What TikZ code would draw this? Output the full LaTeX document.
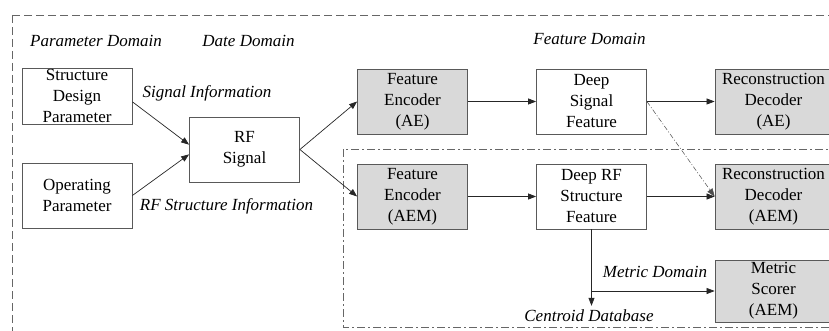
\documentclass[tikz,border=0pt]{standalone}
\usepackage{fontspec}
\setmainfont{Liberation Serif}
\usetikzlibrary{arrows.meta}

\begin{document}
\begin{tikzpicture}[x=1pt, y=-1pt,
        font=\fontsize{17}{21}\selectfont,
        >={Triangle[length=8pt,width=6pt]},
        box/.style={draw=black!65, line width=0.8pt, align=center, inner sep=0pt, minimum width=110pt, minimum height=65pt},
        gray box/.style={box, fill=black!15},
        domain label/.style={font=\fontsize{17}{21}\selectfont\itshape, inner sep=0pt},
        link/.style={->, line width=0.7pt, color=black!85},
        side link/.style={link, line width=0.5pt, color=black!70, dash pattern=on 5pt off 2pt on 1pt off 2pt},
        frame/.style={draw=black!60, line width=0.8pt, dash pattern=on 8pt off 4pt},
        inner frame/.style={draw=black!60, line width=0.8pt, dash pattern=on 8pt off 3pt on 2pt off 3pt}
        ]
        \useasboundingbox (0,0) rectangle (829,331);
        \clip (0,0) rectangle (829,331);
        \draw [frame] (12,15) rectangle (845,350);
        \draw [inner frame] (343,149) rectangle (845,327);

        \node [box, minimum height=56pt] (sdp) at (77,96) {Structure\\Design\\Parameter};
        \node [box] (op) at (77,195.5) {Operating\\Parameter};
        \node [box] (rf) at (244.5,149.5) {RF\\Signal};
        \node [gray box] (feae) at (412.5,101.5) {Feature\\Encoder\\(AE)};
        \node [box] (dsf) at (591.5,101.5) {Deep\\Signal\\Feature};
        \node [gray box, minimum width=117pt] (rdae) at (773.5,101.5) {Reconstruction\\Decoder\\(AE)};
        \node [gray box] (feaem) at (412.5,196.5) {Feature\\Encoder\\(AEM)};
        \node [box] (drsf) at (591.5,196.5) {Deep RF\\Structure\\Feature};
        \node [gray box, minimum width=117pt] (rdaem) at (773.5,196.5) {Reconstruction\\Decoder\\(AEM)};
        \node [gray box, minimum width=117pt, minimum height=62pt] (ms) at (773.5,291) {Metric\\Scorer\\(AEM)};

        \node [domain label] (pd) at (96,41) {Parameter Domain};
        \node [domain label] (dd) at (248.5,41) {Date Domain};
        \node [domain label] (fd) at (589.5,39) {Feature Domain};
        \node [domain label] (si) at (207,93) {Signal Information};
        \node [domain label] (rsi) at (226.5,206) {RF Structure Information};
        \node [domain label] (md) at (655,272) {Metric Domain};
        \node [domain label] (cdb) at (589,316) {Centroid Database};

        \coordinate (cdbtip) at (drsf.south |- cdb.north);
        \coordinate (fork) at (drsf.south |- ms.west);

        \draw [link] (sdp.-6) -- (rf.175);
        \draw [link] (op.east) -- (rf.185);
        \draw [link] (rf.east) -- (feae.west);
        \draw [link] (rf.east) -- (feaem.west);
        \draw [link] (feae.east) -- (dsf.west);
        \draw [link] (dsf.east) -- (rdae.west);
        \draw [side link] (dsf.east) -- (rdaem.west);
        \draw [link] (feaem.east) -- (drsf.west);
        \draw [link] (drsf.east) -- (rdaem.west);
        \draw [link, shorten >=4pt] (drsf.south) -- (cdbtip);
        \draw [link] (fork) -- (ms.west);
\end{tikzpicture}
\end{document}
